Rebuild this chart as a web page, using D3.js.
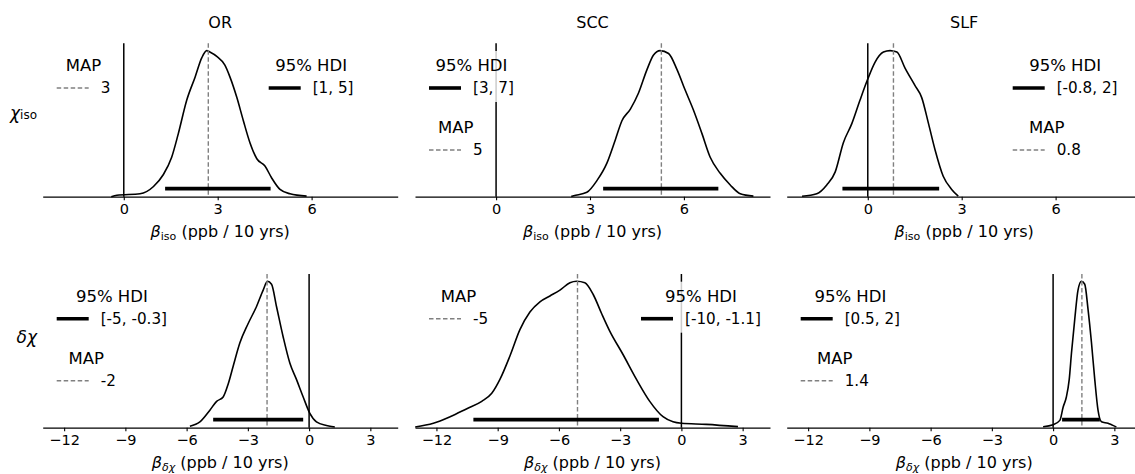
<!DOCTYPE html>
<html>
<head>
<meta charset="utf-8">
<title>Posterior slopes</title>
<script src="https://d3js.org/d3.v7.min.js"></script>
<style>
  body { margin: 0; background: #fff; }
  svg { font-family: "DejaVu Sans", sans-serif; }
</style>
</head>
<body>
<div id="chart"></div>
<script>
// ---- data ----
const columns = ["OR", "SCC", "SLF"];

// posterior density (x, relative height) for chi_iso row
const orIso = [[-0.4,0],[-0.22,0.01],[0.52,0.02],[0.95,0.07],[1.26,0.15],[1.53,0.27],[1.74,0.43],[2.01,0.66],[2.28,0.82],[2.49,0.95],[2.65,1.0],[2.75,0.99],[2.97,0.96],[3.23,0.9],[3.39,0.82],[3.61,0.68],[3.82,0.52],[4.03,0.37],[4.25,0.26],[4.51,0.21],[4.72,0.13],[4.99,0.05],[5.31,0.02],[5.84,0.004]];
const sccIso = [[2.4,0.002],[2.48,0.007],[2.9,0.03],[3.22,0.11],[3.54,0.23],[3.81,0.39],[4.02,0.52],[4.29,0.6],[4.55,0.71],[4.82,0.87],[5.03,0.97],[5.24,1.0],[5.51,0.98],[5.78,0.87],[6.04,0.73],[6.31,0.59],[6.58,0.43],[6.84,0.27],[7.16,0.16],[7.48,0.08],[7.8,0.02],[8.22,0.004]];
const slfIso = [[-2.1,0.003],[-1.63,0.02],[-1.31,0.08],[-1.04,0.17],[-0.78,0.37],[-0.51,0.5],[-0.25,0.66],[-0.01,0.8],[0.23,0.92],[0.5,0.99],[0.71,1.0],[0.93,0.99],[1.19,0.88],[1.51,0.76],[1.72,0.68],[1.94,0.5],[2.15,0.32],[2.41,0.14],[2.68,0.05],[2.89,0.004]];

// posterior density for delta chi row
const orDchi = [[-5.84,0.01],[-5.35,0.04],[-4.86,0.12],[-4.53,0.18],[-4.21,0.21],[-3.96,0.3],[-3.72,0.42],[-3.39,0.58],[-2.99,0.71],[-2.57,0.83],[-2.25,0.94],[-2.04,1.0],[-1.84,0.98],[-1.6,0.83],[-1.27,0.62],[-0.94,0.44],[-0.62,0.33],[-0.29,0.21],[0.03,0.1],[0.36,0.04],[0.85,0.015],[1.26,0.005]];
const sccDchi = [[-13.04,0.005],[-12.15,0.03],[-11.33,0.075],[-10.51,0.13],[-9.78,0.18],[-9.29,0.235],[-8.89,0.33],[-8.4,0.49],[-7.91,0.67],[-7.42,0.79],[-6.93,0.86],[-6.44,0.9],[-5.95,0.94],[-5.46,0.99],[-5.13,1.0],[-4.73,0.99],[-4.32,0.91],[-3.91,0.78],[-3.51,0.66],[-2.86,0.5],[-2.2,0.33],[-1.55,0.18],[-0.9,0.075],[-0.41,0.04],[0,0.03],[1.22,0.023],[2.77,0.007]];
const slfDchi = [[-0.49,0.007],[0,0.02],[0.33,0.05],[0.49,0.14],[0.65,0.21],[0.79,0.33],[0.9,0.51],[1.06,0.74],[1.22,0.94],[1.39,1.0],[1.55,0.98],[1.71,0.81],[1.88,0.58],[2.04,0.33],[2.2,0.12],[2.37,0.04],[2.69,0.03],[2.86,0.02],[3.1,0.005]];

const mapIso = [2.7, 5.28, 0.82];
const mapDchi = [-2.06, -5.09, 1.41];
const hdiIso = [[1.32, 4.69], [3.42, 7.1], [-0.81, 2.28]];
const hdiDchi = [[-4.7, -0.29], [-10.19, -1.1], [0.44, 2.29]];
const mapLabelIso = ["3", "5", "0.8"];
const mapLabelDchi = ["-2", "-5", "1.4"];
const hdiLabelIso = ["[1, 5]", "[3, 7]", "[-0.8, 2]"];
const hdiLabelDchi = ["[-5, -0.3]", "[-10, -1.1]", "[0.5, 2]"];
const ticksIso = [0, 3, 6];
const ticksDchi = [-12, -9, -6, -3, 0, 3];

// legend placement per panel: [side, row] for MAP and HDI
const mapPlaceIso = [["left", 0], ["left", 1], ["right", 1]];
const hdiPlaceIso = [["right", 0], ["left", 0], ["right", 0]];
const mapPlaceDchi = [["left", 1], ["left", 0], ["left", 1]];
const hdiPlaceDchi = [["left", 0], ["right", 0], ["left", 0]];

const rows = [
  { dens: [orIso, sccIso, slfIso], map: mapIso, hdi: hdiIso, mapLab: mapLabelIso, hdiLab: hdiLabelIso,
    mapPlace: mapPlaceIso, hdiPlace: hdiPlaceIso, domain: [-2.59, 8.75], ticks: ticksIso,
    top: 43.3, height: 153.4, sub: "iso", subItalic: false, rowLab: ["χ", "iso"] },
  { dens: [orDchi, sccDchi, slfDchi], map: mapDchi, hdi: hdiDchi, mapLab: mapLabelDchi, hdiLab: hdiLabelDchi,
    mapPlace: mapPlaceDchi, hdiPlace: hdiPlaceDchi, domain: [-13.05, 4.34], ticks: ticksDchi,
    top: 274, height: 153.7, sub: "δχ", subItalic: true, rowLab: ["δχ", ""] }
];

// ---- layout ----
const W = 1135, H = 474;
const lefts = [42.7, 415, 786.7], axW = 355;

const svg = d3.select("#chart").append("svg")
  .attr("width", W).attr("height", H);

function legend(g, x0, yTitle, title, dashed, label) {
  const lg = g.append("g");
  const bg = lg.append("rect").attr("fill", "#fff").attr("opacity", 0.8);
  const yRow = yTitle + 23;
  lg.append("line")
    .attr("x1", x0).attr("x2", x0 + 32).attr("y1", yRow).attr("y2", yRow)
    .attr("stroke", dashed ? "#808080" : "#000")
    .attr("stroke-width", dashed ? 1.4 : 3.6)
    .attr("stroke-dasharray", dashed ? "4.5,2.5" : null);
  const lt = lg.append("text")
    .attr("x", x0 + 44).attr("y", yRow).attr("dy", "0.36em")
    .attr("font-size", 15.2).text(label);
  const lw = lt.node().getComputedTextLength();
  const right = x0 + 44 + lw;
  lg.append("text")
    .attr("x", (x0 + right) / 2).attr("y", yTitle).attr("dy", "0.36em")
    .attr("text-anchor", "middle").attr("font-size", 16.5).text(title);
  bg.attr("x", x0 - 8).attr("y", yTitle - 14)
    .attr("width", right - x0 + 16).attr("height", 23 + 28);
}

rows.forEach((r, ri) => {
  const y = d3.scaleLinear().domain([0, 1.05]).range([r.top + r.height, r.top]);
  const base = r.top + r.height;

  // row label
  const rl = svg.append("text")
    .attr("x", 37).attr("y", ri === 0 ? 119 : 343)
    .attr("text-anchor", "end").attr("font-size", 17);
  rl.append("tspan").attr("font-style", "italic").text(r.rowLab[0]);
  if (r.rowLab[1]) rl.append("tspan").attr("font-size", 12).text(r.rowLab[1]);

  columns.forEach((c, ci) => {
    const x = d3.scaleLinear().domain(r.domain).range([lefts[ci], lefts[ci] + axW]);
    const g = svg.append("g");

    if (ri === 0) {
      g.append("text")
        .attr("x", lefts[ci] + axW / 2).attr("y", 28.3)
        .attr("text-anchor", "middle").attr("font-size", 16).text(c);
    }

    const line = d3.line().x(d => x(d[0])).y(d => y(d[1])).curve(d3.curveMonotoneX);
    g.append("path").datum(r.dens[ci])
      .attr("d", line).attr("fill", "none")
      .attr("stroke", "#000").attr("stroke-width", 1.6);

    // reference line at zero
    g.append("line")
      .attr("x1", x(0)).attr("x2", x(0)).attr("y1", r.top).attr("y2", base)
      .attr("stroke", "#000").attr("stroke-width", 1.5);

    // MAP
    g.append("line")
      .attr("x1", x(r.map[ci])).attr("x2", x(r.map[ci]))
      .attr("y1", r.top).attr("y2", base)
      .attr("stroke", "#808080").attr("stroke-width", 1.4)
      .attr("stroke-dasharray", "4.5,2.5");

    // HDI bar
    g.append("line")
      .attr("x1", x(r.hdi[ci][0])).attr("x2", x(r.hdi[ci][1]))
      .attr("y1", y(0.055)).attr("y2", y(0.055))
      .attr("stroke", "#000").attr("stroke-width", 3.6);

    // axis
    const ax = g.append("g")
      .attr("transform", "translate(0," + base + ")")
      .call(d3.axisBottom(x).tickValues(r.ticks).tickSize(3.5).tickPadding(4).tickSizeOuter(0));
    ax.select(".domain").attr("stroke-width", 1.3);
    ax.selectAll(".tick line").attr("stroke-width", 1.1);
    ax.selectAll(".tick text").attr("font-size", 14.5).attr("font-family", "DejaVu Sans");

    // x label
    const xl = g.append("text")
      .attr("x", lefts[ci] + axW / 2).attr("y", base + 40.6)
      .attr("text-anchor", "middle").attr("font-size", 16);
    xl.append("tspan").attr("font-style", "italic").text("β");
    xl.append("tspan").attr("font-size", 11).attr("dy", 3)
      .attr("font-style", r.subItalic ? "italic" : "normal").text(r.sub);
    xl.append("tspan").attr("dy", -3).text(" (ppb / 10 yrs)");

    // legends
    const place = (p) => [lefts[ci] + (p[0] === "left" ? 14 : 226), r.top + (p[1] === 0 ? 21.7 : 83.7)];
    const mp = place(r.mapPlace[ci]);
    legend(g, mp[0], mp[1], "MAP", true, r.mapLab[ci]);
    const hp = place(r.hdiPlace[ci]);
    legend(g, hp[0], hp[1], "95% HDI", false, r.hdiLab[ci]);
  });
});
</script>
</body>
</html>
